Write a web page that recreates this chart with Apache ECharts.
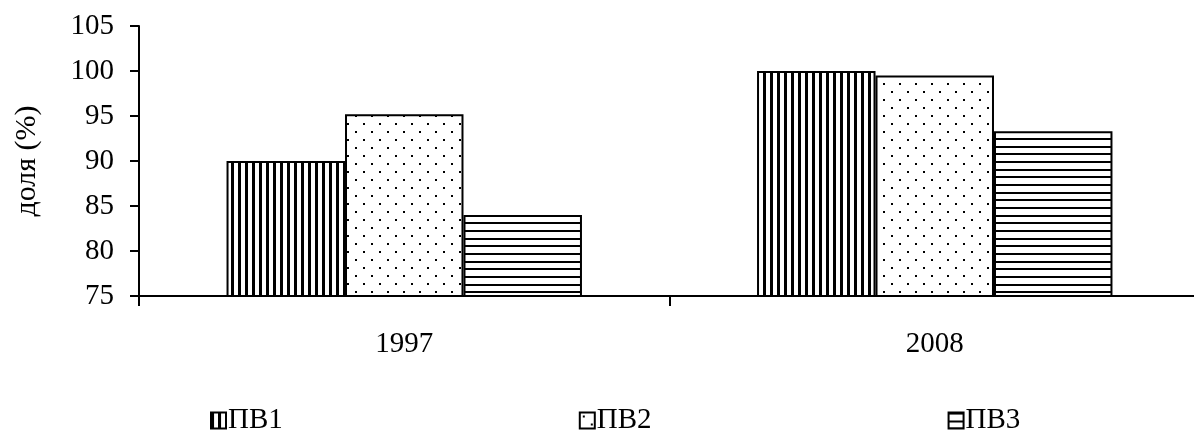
<!DOCTYPE html>
<html>
<head>
<meta charset="utf-8">
<script src="https://cdn.jsdelivr.net/npm/echarts@6/dist/echarts.min.js"></script>
<style>
  html, body { margin: 0; padding: 0; background: #fff; }
  #chart { width: 1194px; height: 435px; }
</style>
</head>
<body>
<div id="chart"></div>
<script>
// Years on the category axis
const categories = ['1997', '2008'];
// Share values, %
const pv1 = [90, 100];
const pv2 = [95.2, 99.5];
const pv3 = [84, 93.3];
const seriesNames = ['ПВ1', 'ПВ2', 'ПВ3'];
// Value axis range
const yMin = 75;
const yMax = 105;
const yStep = 5;

const FONT = "'Liberation Serif', 'Times New Roman', serif";

function makeTile(w, h, draw) {
  const c = document.createElement('canvas');
  c.width = w;
  c.height = h;
  const ctx = c.getContext('2d');
  ctx.fillStyle = '#fff';
  ctx.fillRect(0, 0, w, h);
  ctx.fillStyle = '#000';
  draw(ctx);
  return { image: c, repeat: 'repeat' };
}

// vertical hatching
const vertical = makeTile(7, 7, ctx => ctx.fillRect(0, 0, 3, 7));
// sparse staggered dots
const dots = makeTile(16, 16, ctx => {
  ctx.fillRect(3, 3, 2, 2);
  ctx.fillRect(11, 11, 2, 2);
});
// horizontal hatching, ~7.7px pitch
const horizontal = makeTile(8, 23, ctx => {
  ctx.fillRect(0, 0, 8, 2);
  ctx.fillRect(0, 8, 8, 2);
  ctx.fillRect(0, 15, 8, 2);
});

const fills = [vertical, dots, horizontal];
const values = [pv1, pv2, pv3];

const chart = echarts.init(document.getElementById('chart'), null, { renderer: 'canvas' });

chart.setOption({
  backgroundColor: '#fff',
  animation: false,
  grid: {
    left: 139,
    top: 26,
    width: 1061,
    height: 270,
    containLabel: false,
    outerBoundsMode: 'none'
  },
  legend: {
    data: seriesNames,
    left: 210,
    top: 406,
    padding: 0,
    itemGap: 296,
    itemWidth: 15,
    itemHeight: 16,
    icon: 'rect',
    textStyle: { fontFamily: FONT, fontSize: 29, color: '#000', padding: [0, 0, 0, -3] }
  },
  xAxis: {
    type: 'category',
    data: categories,
    boundaryGap: true,
    axisLine: { lineStyle: { color: '#000', width: 2 } },
    axisTick: { show: true, length: 10, lineStyle: { color: '#000', width: 2 } },
    axisLabel: { margin: 34, fontFamily: FONT, fontSize: 29, color: '#000' },
    splitLine: { show: false }
  },
  yAxis: {
    type: 'value',
    min: yMin,
    max: yMax,
    interval: yStep,
    name: 'доля (%)',
    nameLocation: 'middle',
    nameRotate: 90,
    nameGap: 97,
    nameTextStyle: { fontFamily: FONT, fontSize: 30, color: '#000' },
    axisLine: { show: true, lineStyle: { color: '#000', width: 2 } },
    axisTick: { show: true, length: 9, lineStyle: { color: '#000', width: 2 } },
    axisLabel: { margin: 25, fontFamily: FONT, fontSize: 29, color: '#000' },
    splitLine: { show: false }
  },
  series: seriesNames.map((name, i) => ({
    name,
    type: 'bar',
    data: values[i],
    barGap: '0%',
    barCategoryGap: '33%',
    itemStyle: {
      color: fills[i],
      borderColor: '#000',
      borderWidth: 2
    }
  }))
});
</script>
</body>
</html>
